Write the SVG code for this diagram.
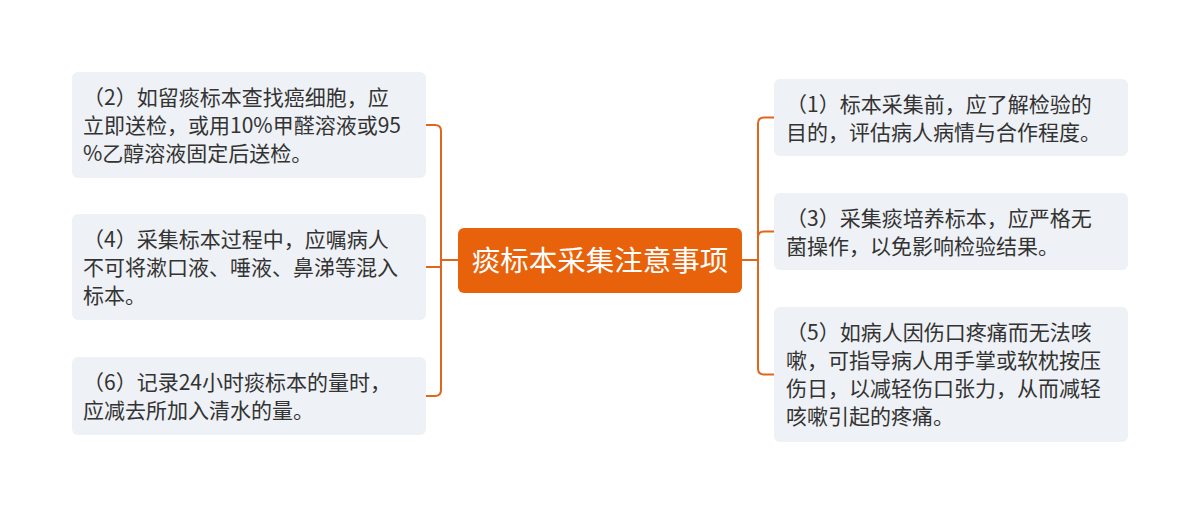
<svg xmlns="http://www.w3.org/2000/svg" width="1200" height="514" viewBox="0 0 1200 514">
<style>
.box{fill:#EEF1F5}
.t{font-family:"Noto Sans CJK SC","Noto Sans",sans-serif;font-size:21px;fill:#333333}
.c{font-family:"Noto Sans CJK SC","Noto Sans",sans-serif;font-size:28.5px;fill:#FFFFFF}
.ln{fill:none;stroke:#E0661C;stroke-width:2}
</style>
<rect width="1200" height="514" fill="#FFFFFF"/>
<g id="connectors">
<path class="ln" d="M458 260 H441 V131 Q441 125 435 125 H426"/>
<path class="ln" d="M441 260 V267 H426"/>
<path class="ln" d="M441 260 V390 Q441 396 435 396 H426"/>
<path class="ln" d="M742 260 H758 V123.5 Q758 117.5 764 117.5 H774"/>
<path class="ln" d="M758 260 V237.5 Q758 231.5 764 231.5 H774"/>
<path class="ln" d="M758 260 V368.5 Q758 374.5 764 374.5 H774"/>
</g>
<g id="center">
<rect x="458" y="228" width="284" height="65" rx="6" fill="#E8620C"/>
<text class="c" x="600" y="270.5" text-anchor="middle">痰标本采集注意事项</text>
</g>
<g id="n2">
<rect class="box" x="72" y="72" width="354" height="106" rx="6"/>
<text class="t" x="83" y="104.5"> （2）如留痰标本查找癌细胞，应</text>
<text class="t" x="83" y="132.5">立即送检，或用10%甲醛溶液或95</text>
<text class="t" x="83" y="160.5">%乙醇溶液固定后送检。</text>
</g>
<g id="n4">
<rect class="box" x="72" y="214" width="354" height="106" rx="6"/>
<text class="t" x="83" y="246.5"> （4）采集标本过程中，应嘱病人</text>
<text class="t" x="83" y="274.5">不可将漱口液、唾液、鼻涕等混入</text>
<text class="t" x="83" y="302.5">标本。</text>
</g>
<g id="n6">
<rect class="box" x="72" y="357" width="354" height="78" rx="6"/>
<text class="t" x="83" y="389.5"> （6）记录24小时痰标本的量时，</text>
<text class="t" x="83" y="417.5">应减去所加入清水的量。</text>
</g>
<g id="n1">
<rect class="box" x="774" y="79" width="354" height="77" rx="6"/>
<text class="t" x="786" y="111.5"> （1）标本采集前，应了解检验的</text>
<text class="t" x="786" y="139.5">目的，评估病人病情与合作程度。</text>
</g>
<g id="n3">
<rect class="box" x="774" y="193" width="354" height="77" rx="6"/>
<text class="t" x="786" y="225.5"> （3）采集痰培养标本，应严格无</text>
<text class="t" x="786" y="253.5">菌操作，以免影响检验结果。</text>
</g>
<g id="n5">
<rect class="box" x="774" y="307" width="354" height="135" rx="6"/>
<text class="t" x="786" y="339.5"> （5）如病人因伤口疼痛而无法咳</text>
<text class="t" x="786" y="367.5">嗽，可指导病人用手掌或软枕按压</text>
<text class="t" x="786" y="395.5">伤日，以减轻伤口张力，从而减轻</text>
<text class="t" x="786" y="423.5">咳嗽引起的疼痛。</text>
</g>
</svg>
